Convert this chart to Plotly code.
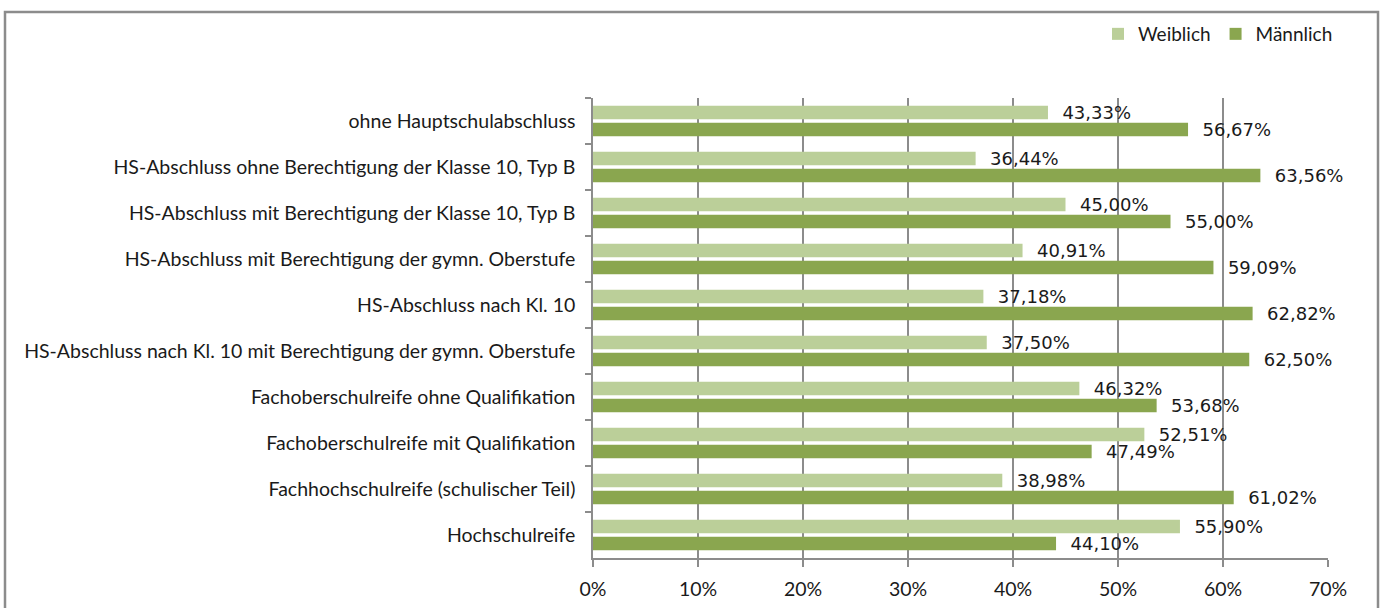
import plotly.graph_objects as go

categories = [
    "ohne Hauptschulabschluss",
    "HS-Abschluss ohne Berechtigung der Klasse 10, Typ B",
    "HS-Abschluss mit Berechtigung der Klasse 10, Typ B",
    "HS-Abschluss mit Berechtigung der gymn. Oberstufe",
    "HS-Abschluss nach Kl. 10",
    "HS-Abschluss nach Kl. 10 mit Berechtigung der gymn. Oberstufe",
    "Fachoberschulreife ohne Qualifikation",
    "Fachoberschulreife mit Qualifikation",
    "Fachhochschulreife (schulischer Teil)",
    "Hochschulreife",
]
weiblich = [43.33, 36.44, 45.00, 40.91, 37.18, 37.50, 46.32, 52.51, 38.98, 55.90]
maennlich = [56.67, 63.56, 55.00, 59.09, 62.82, 62.50, 53.68, 47.49, 61.02, 44.10]
x_ticks = [0, 10, 20, 30, 40, 50, 60, 70]


def fmt(v):
    return "\u00a0\u00a0" + f"{v:.2f}%".replace(".", ",")


LABEL_FONT = dict(family="DejaVu Sans", size=18, color="#1a1a1a")
TEXT_FONT = dict(family="Lato", size=19.5, color="#1a1a1a")

fig = go.Figure()
fig.add_trace(go.Bar(
    name="Weiblich", y=categories, x=weiblich, orientation="h",
    marker=dict(color="#BBCF99", line=dict(width=0)),
    text=[fmt(v) for v in weiblich], textposition="outside",
    textfont=LABEL_FONT, cliponaxis=False, constraintext="none",
))
fig.add_trace(go.Bar(
    name="Männlich", y=categories, x=maennlich, orientation="h",
    marker=dict(color="#8AA64F", line=dict(width=0)),
    text=[fmt(v) for v in maennlich], textposition="outside",
    textfont=LABEL_FONT, cliponaxis=False, constraintext="none",
))

L, R, T, B = 593, 55, 98, 50
W, H = 1383, 608
pw, ph = W - L - R, H - T - B

fig.update_layout(
    width=W, height=H,
    margin=dict(l=L, r=R, t=T, b=B, pad=0, autoexpand=False),
    paper_bgcolor="white", plot_bgcolor="white",
    barmode="group", bargap=0.26, bargroupgap=0.22,
    font=TEXT_FONT,
    legend=dict(
        orientation="h", x=1.0 + 10 / pw, xanchor="right", y=1.0 + (T - 15) / ph,
        yanchor="top", font=dict(family="Lato", size=19, color="#1a1a1a"),
        traceorder="normal", itemwidth=30,
    ),
    xaxis=dict(
        range=[0, 70], tickvals=x_ticks, ticktext=[f"{t}%" for t in x_ticks],
        showgrid=True, gridcolor="#8C8C8C", gridwidth=1.5,
        showline=True, linecolor="#8C8C8C", linewidth=1.5,
        ticks="outside", ticklen=7, tickcolor="#8C8C8C", tickwidth=1.5,
        ticklabelstandoff=6, automargin=False,
        zeroline=False, fixedrange=True, tickfont=TEXT_FONT,
    ),
    yaxis=dict(
        autorange="reversed", type="category",
        showline=True, linecolor="#8C8C8C", linewidth=1.5,
        ticks="outside", tickson="boundaries", ticklen=6,
        tickcolor="#8C8C8C", tickwidth=1.5, ticklabelstandoff=12,
        showgrid=False, tickfont=TEXT_FONT, automargin=False,
    ),
    shapes=[dict(
        type="rect", xref="paper", yref="paper",
        x0=(5 - L) / pw, x1=(1378 - L) / pw,
        y0=1 - (H + 10 - T) / ph, y1=1 + (T - 12) / ph,
        line=dict(color="#8C8C8C", width=2.5), layer="below",
    )],
)

fig.write_html("out.html", config={"displayModeBar": False},
               post_script="document.body.style.margin='0';")
